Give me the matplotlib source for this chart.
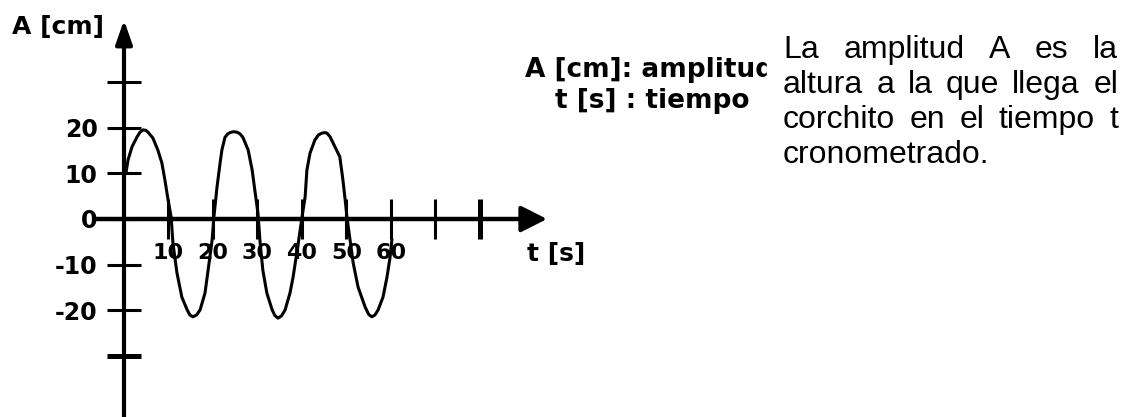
import matplotlib.pyplot as plt
from matplotlib.patches import Rectangle

# curve: time (s) and amplitude (cm)
t_s = [0.45, 0.9, 1.8, 2.9, 3.6, 4.3, 4.9, 5.4, 6.5, 7.6, 8.5, 9.2, 9.9, 10.6,
       11.0, 11.9, 13.0, 14.2, 14.8, 15.5, 16.3, 17.1, 18.2, 18.9, 19.8, 20.2,
       20.9, 21.6, 22.0, 22.7, 23.3, 23.8, 24.6, 25.4, 26.1, 26.7, 27.9,
       28.8, 29.4, 30.1,
       30.6, 31.2, 32.1, 33.3, 33.9, 34.6, 35.4, 36.2, 37.3, 38.0, 39.1, 40.0,
       40.7, 41.1, 41.8, 42.9, 43.7, 44.5, 45.1, 45.6, 46.3, 47.0, 48.5,
       49.2, 49.7, 50.1,
       50.8, 51.5, 52.6, 54.2, 55.0, 55.7, 56.4, 57.1, 58.2, 59.1, 59.8, 60.2]
a_cm = [10.1, 12.9, 15.8, 17.9, 19.0, 19.5, 19.4, 19.0, 17.7, 15.1, 12.3, 8.5,
        4.2, 0.4,
        -5.3, -11.8, -17.1, -19.9, -21.0, -21.4, -21.0, -19.9, -16.2, -11.2,
        -4.6, 0.4,
        7.0, 12.3, 15.1, 17.9, 18.6, 18.9, 19.1, 19.0, 18.6, 17.9, 15.1,
        10.7, 6.3, 1.3,
        -5.3, -11.2, -16.2, -19.9, -21.1, -21.7, -21.2, -19.9, -16.2, -12.7,
        -5.7, 0.4,
        4.8, 10.7, 14.4, 17.3, 18.4, 18.8, 18.9, 18.8, 18.0, 16.6, 13.6,
        8.5, 4.2, 0.4,
        -4.6, -9.6, -14.9, -19.3, -20.9, -21.4, -21.0, -19.9, -17.1, -12.7,
        -8.3, -4.6]

y_ticks = [-30, -20, -10, 0, 10, 20, 30]
y_labels = ['', '-20', '-10', '0', '10', '20', '']
x_ticks = [10, 20, 30, 40, 50, 60, 70, 80]
x_labels = ['10', '20', '30', '40', '50', '60', '', '']

legend_lines = ['A [cm]: amplitud', 't [s] : tiempo']
note_lines = ['La amplitud A es la',
              'altura  a la que llega el',
              'corchito en el tiempo t',
              'cronometrado.']

# layout (pixels)
W, H = 1125, 417
OX, OY = 124, 219          # origin of the axes in pixels
PX_T, PX_A = 4.45, 4.57    # pixels per second / per cm
BOLD = dict(family='DejaVu Sans', fontweight='bold')


def fx(x):
    return x / W


def fy(y):
    return 1 - y / H


fig = plt.figure(figsize=(W / 100, H / 100), dpi=100)
ax = fig.add_axes([0, 0, 1, 1])
ax.set_xlim(-OX / PX_T, (W - OX) / PX_T)
ax.set_ylim(-(H - OY) / PX_A, OY / PX_A)

t_start = -(OX - 97) / PX_T
t_tip = (547 - OX) / PX_T
a_tip = (OY - 20) / PX_A

for side in ['top', 'right']:
    ax.spines[side].set_visible(False)
ax.spines['left'].set_position(('data', 0))
ax.spines['bottom'].set_position(('data', 0))
ax.spines['left'].set_bounds(ax.get_ylim()[0], a_tip - 3)
ax.spines['bottom'].set_bounds(t_start, t_tip - 3)
ax.spines['left'].set_linewidth(3)
ax.spines['bottom'].set_linewidth(3.2)

ax.set_yticks(y_ticks)
ax.set_yticklabels(y_labels, fontsize=17, **BOLD)
ax.set_xticks(x_ticks)
ax.set_xticklabels(x_labels, fontsize=16, **BOLD)
ax.tick_params(axis='y', direction='inout', length=25, width=2.2, pad=6.5)
ax.tick_params(axis='x', direction='inout', length=29, width=2.2, pad=2.5)
ax.yaxis.get_major_ticks()[0].tick1line.set_markeredgewidth(3.6)
ax.xaxis.get_major_ticks()[-1].tick1line.set_markeredgewidth(3.6)

# arrow heads at the ends of the axes
ax.annotate('', xy=(0, a_tip), xytext=(0, a_tip - 5),
            arrowprops=dict(arrowstyle='-|>,head_length=1.44,head_width=0.5',
                            mutation_scale=10, color='black', lw=3,
                            shrinkA=0, shrinkB=0))
ax.annotate('', xy=(t_tip, 0), xytext=(t_tip - 5, 0),
            arrowprops=dict(arrowstyle='-|>,head_length=1.58,head_width=0.8',
                            mutation_scale=10, color='black', lw=3,
                            shrinkA=0, shrinkB=0))

ax.plot(t_s, a_cm, color='black', lw=2.2, solid_joinstyle='round')

fig.text(fx(12), fy(27), 'A [cm]', fontsize=18, va='center', ha='left', **BOLD)
fig.text(fx(527), fy(254), 't [s]', fontsize=18, va='center', ha='left', **BOLD)

# legend text, partly hidden behind the note box
fig.text(fx(525), fy(77), legend_lines[0], fontsize=19, va='baseline',
         zorder=3, **BOLD)
fig.text(fx(555), fy(108), legend_lines[1], fontsize=19, va='baseline',
         zorder=3, **BOLD)
fig.patches.append(Rectangle((fx(767), fy(190)), fx(W - 767), 170 / H,
                             transform=fig.transFigure, color='white', zorder=4))

# justified note on the right
x0, x1 = 783, 1118
baselines = [58, 93, 128, 163]
fig.canvas.draw()
renderer = fig.canvas.get_renderer()
for i, line in enumerate(note_lines):
    y = fy(baselines[i])
    if i == len(note_lines) - 1:
        fig.text(fx(x0), y, line, fontsize=23, family='Liberation Sans',
                 va='baseline', zorder=5)
        continue
    words = line.split()
    objs = [fig.text(fx(x0), y, w, fontsize=23, family='Liberation Sans',
                     va='baseline', zorder=5) for w in words]
    widths = [o.get_window_extent(renderer).width for o in objs]
    gap = (x1 - x0 - sum(widths)) / (len(words) - 1)
    x = x0
    for o, w in zip(objs, widths):
        o.set_x(fx(x))
        x += w + gap

fig.savefig('out.png', dpi=100)
